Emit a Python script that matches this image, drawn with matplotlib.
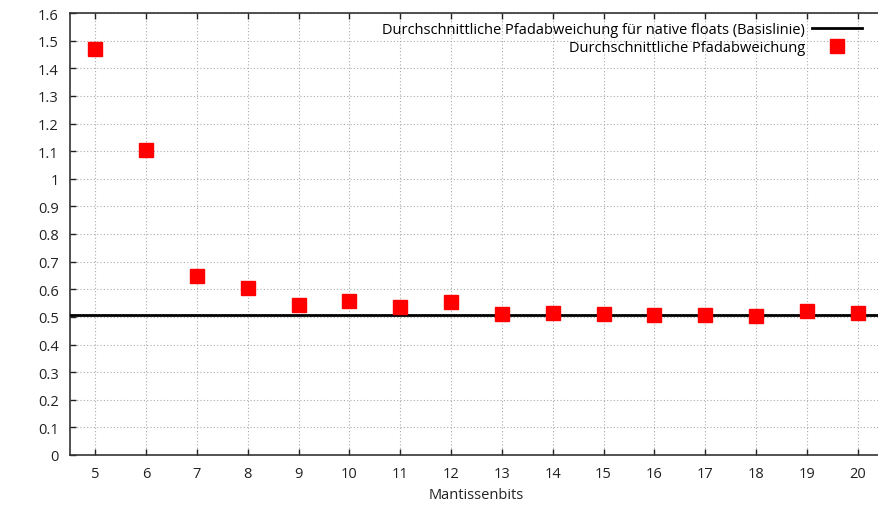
import matplotlib
matplotlib.use("Agg")
import matplotlib.pyplot as plt

plt.rcParams['font.family'] = ['Open Sans', 'DejaVu Sans']

bits = [5, 6, 7, 8, 9, 10, 11, 12, 13, 14, 15, 16, 17, 18, 19, 20]
deviation = [1.470, 1.104, 0.648, 0.603, 0.543, 0.556, 0.537, 0.553,
             0.509, 0.515, 0.512, 0.508, 0.508, 0.502, 0.520, 0.514]
baseline = 0.508
y_ticks = [0, 0.1, 0.2, 0.3, 0.4, 0.5, 0.6, 0.7, 0.8, 0.9, 1.0, 1.1, 1.2, 1.3, 1.4, 1.5, 1.6]
y_labels = ['0', '0.1', '0.2', '0.3', '0.4', '0.5', '0.6', '0.7', '0.8', '0.9', '1',
            '1.1', '1.2', '1.3', '1.4', '1.5', '1.6']

W, H = 879, 506
fig = plt.figure(figsize=(W / 100, H / 100), dpi=100)
left, right, top, bottom = 70, 883, 14, 456
ax = fig.add_axes([left / W, (H - bottom) / H, (right - left) / W, (bottom - top) / H])

ax.axhline(baseline, color='black', lw=2.0, zorder=3,
           label='Durchschnittliche Pfadabweichung für native floats (Basislinie)')
ax.plot(bits, deviation, linestyle='none', marker='s', markersize=9.5,
        color='#ff0000', zorder=4, label='Durchschnittliche Pfadabweichung')

ax.set_xlim(4.5, 20.5)
ax.set_ylim(0, 1.6)
ax.set_xticks(bits)
ax.set_xticklabels([str(b) for b in bits])
ax.set_yticks(y_ticks)
ax.set_yticklabels(y_labels)
ax.tick_params(direction='in', top=True, right=False, length=4, width=1,
               labelsize=10.5, colors='#222222', pad=8)
ax.grid(True, linestyle=(0, (1, 2)), color='#aaaaaa', linewidth=0.8)
for s in ['left', 'bottom', 'top']:
    ax.spines[s].set_color('#333333')
    ax.spines[s].set_linewidth(1.2)
ax.spines['right'].set_visible(False)

ax.set_xlabel('Mantissenbits', fontsize=10.5, color='#222222', labelpad=4)

leg = ax.legend(loc='upper right', bbox_to_anchor=(0.985, 1.0), frameon=False,
                markerfirst=False, fontsize=10.5, handlelength=3.4,
                borderaxespad=0.2, labelspacing=0.2, handletextpad=0.5)
for t in leg.get_texts():
    t.set_ha('right')
leg._legend_box.align = 'right'

fig.savefig('out.png', dpi=100)
